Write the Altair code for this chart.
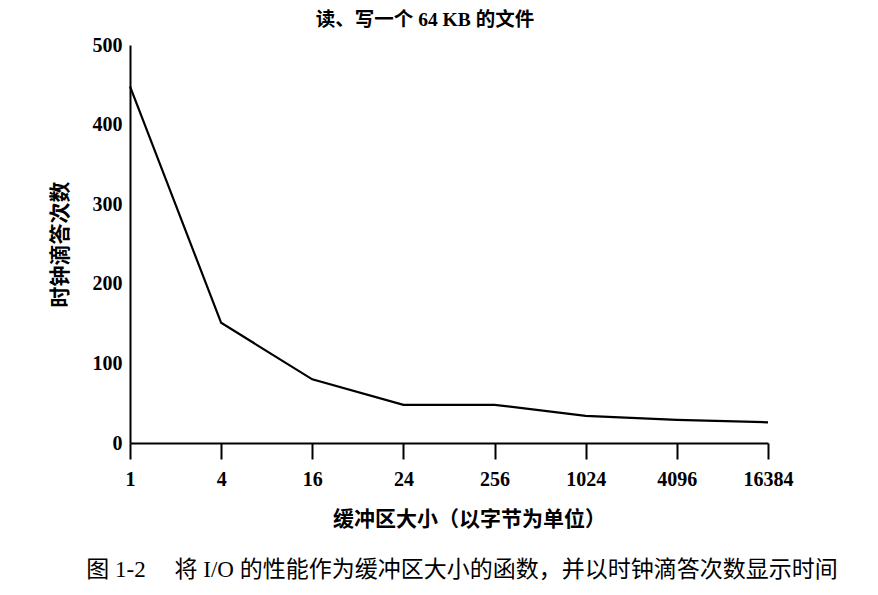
import altair as alt
import pandas as pd

buffer_sizes = ["1", "4", "16", "24", "256", "1024", "4096", "16384"]
clock_ticks = [448, 151, 80, 48, 48, 34, 29, 26]
y_ticks = [0, 100, 200, 300, 400, 500]

chart_title = "读、写一个 64 KB 的文件"
x_title = "缓冲区大小（以字节为单位）"
y_title = "时钟滴答次数"
caption = "图 1-2　 将 I/O 的性能作为缓冲区大小的函数，并以时钟滴答次数显示时间"

FONT = "Liberation Serif, Noto Sans CJK SC"

df = pd.DataFrame({"size": buffer_sizes, "ticks": clock_ticks})

line = alt.Chart(df).mark_line(color="black", strokeWidth=2.2).encode(
    x=alt.X(
        "size:O",
        sort=None,
        scale=alt.Scale(type="point", padding=0),
        axis=alt.Axis(
            title=x_title,
            labelAngle=0,
            labelFont=FONT,
            labelFontSize=20,
            labelFontWeight="bold",
            labelColor="black",
            labelPadding=10,
            tickSize=16,
            tickWidth=2,
            tickColor="black",
            domainColor="black",
            domainWidth=2,
            titleFont=FONT,
            titleFontSize=21,
            titleFontWeight="bold",
            titleColor="black",
            titleX=339,
            titleY=76,
            titleBaseline="middle",
            titleAnchor="start",
            titleAlign="center",
        ),
    ),
    y=alt.Y(
        "ticks:Q",
        scale=alt.Scale(domain=[0, 500], nice=False),
        axis=alt.Axis(
            title=y_title,
            values=y_ticks,
            grid=False,
            ticks=False,
            labelFont=FONT,
            labelFontSize=20,
            labelFontWeight="bold",
            labelColor="black",
            labelPadding=8,
            domainColor="black",
            domainWidth=2,
            titleFont=FONT,
            titleFontSize=21,
            titleFontWeight="bold",
            titleColor="black",
            titleX=-70,
            titleBaseline="middle",
        ),
    ),
)

title_text = alt.Chart(pd.DataFrame({"t": [chart_title]})).mark_text(
    font=FONT, fontSize=19.5, fontWeight="bold", color="black", baseline="middle", align="center"
).encode(text="t:N", x=alt.value(295), y=alt.value(-25))

caption_text = alt.Chart(pd.DataFrame({"t": [caption]})).mark_text(
    font=FONT, fontSize=23, color="black", baseline="middle", align="center"
).encode(text="t:N", x=alt.value(332), y=alt.value(525))

chart = alt.layer(line, title_text, caption_text).properties(
    width=638,
    height=398,
    padding={"left": 130, "top": 45, "right": 110, "bottom": 152},
    autosize="none",
    background="white",
).configure_view(stroke=None)

chart.save("out.html", embed_options={"renderer": "svg", "actions": False})
